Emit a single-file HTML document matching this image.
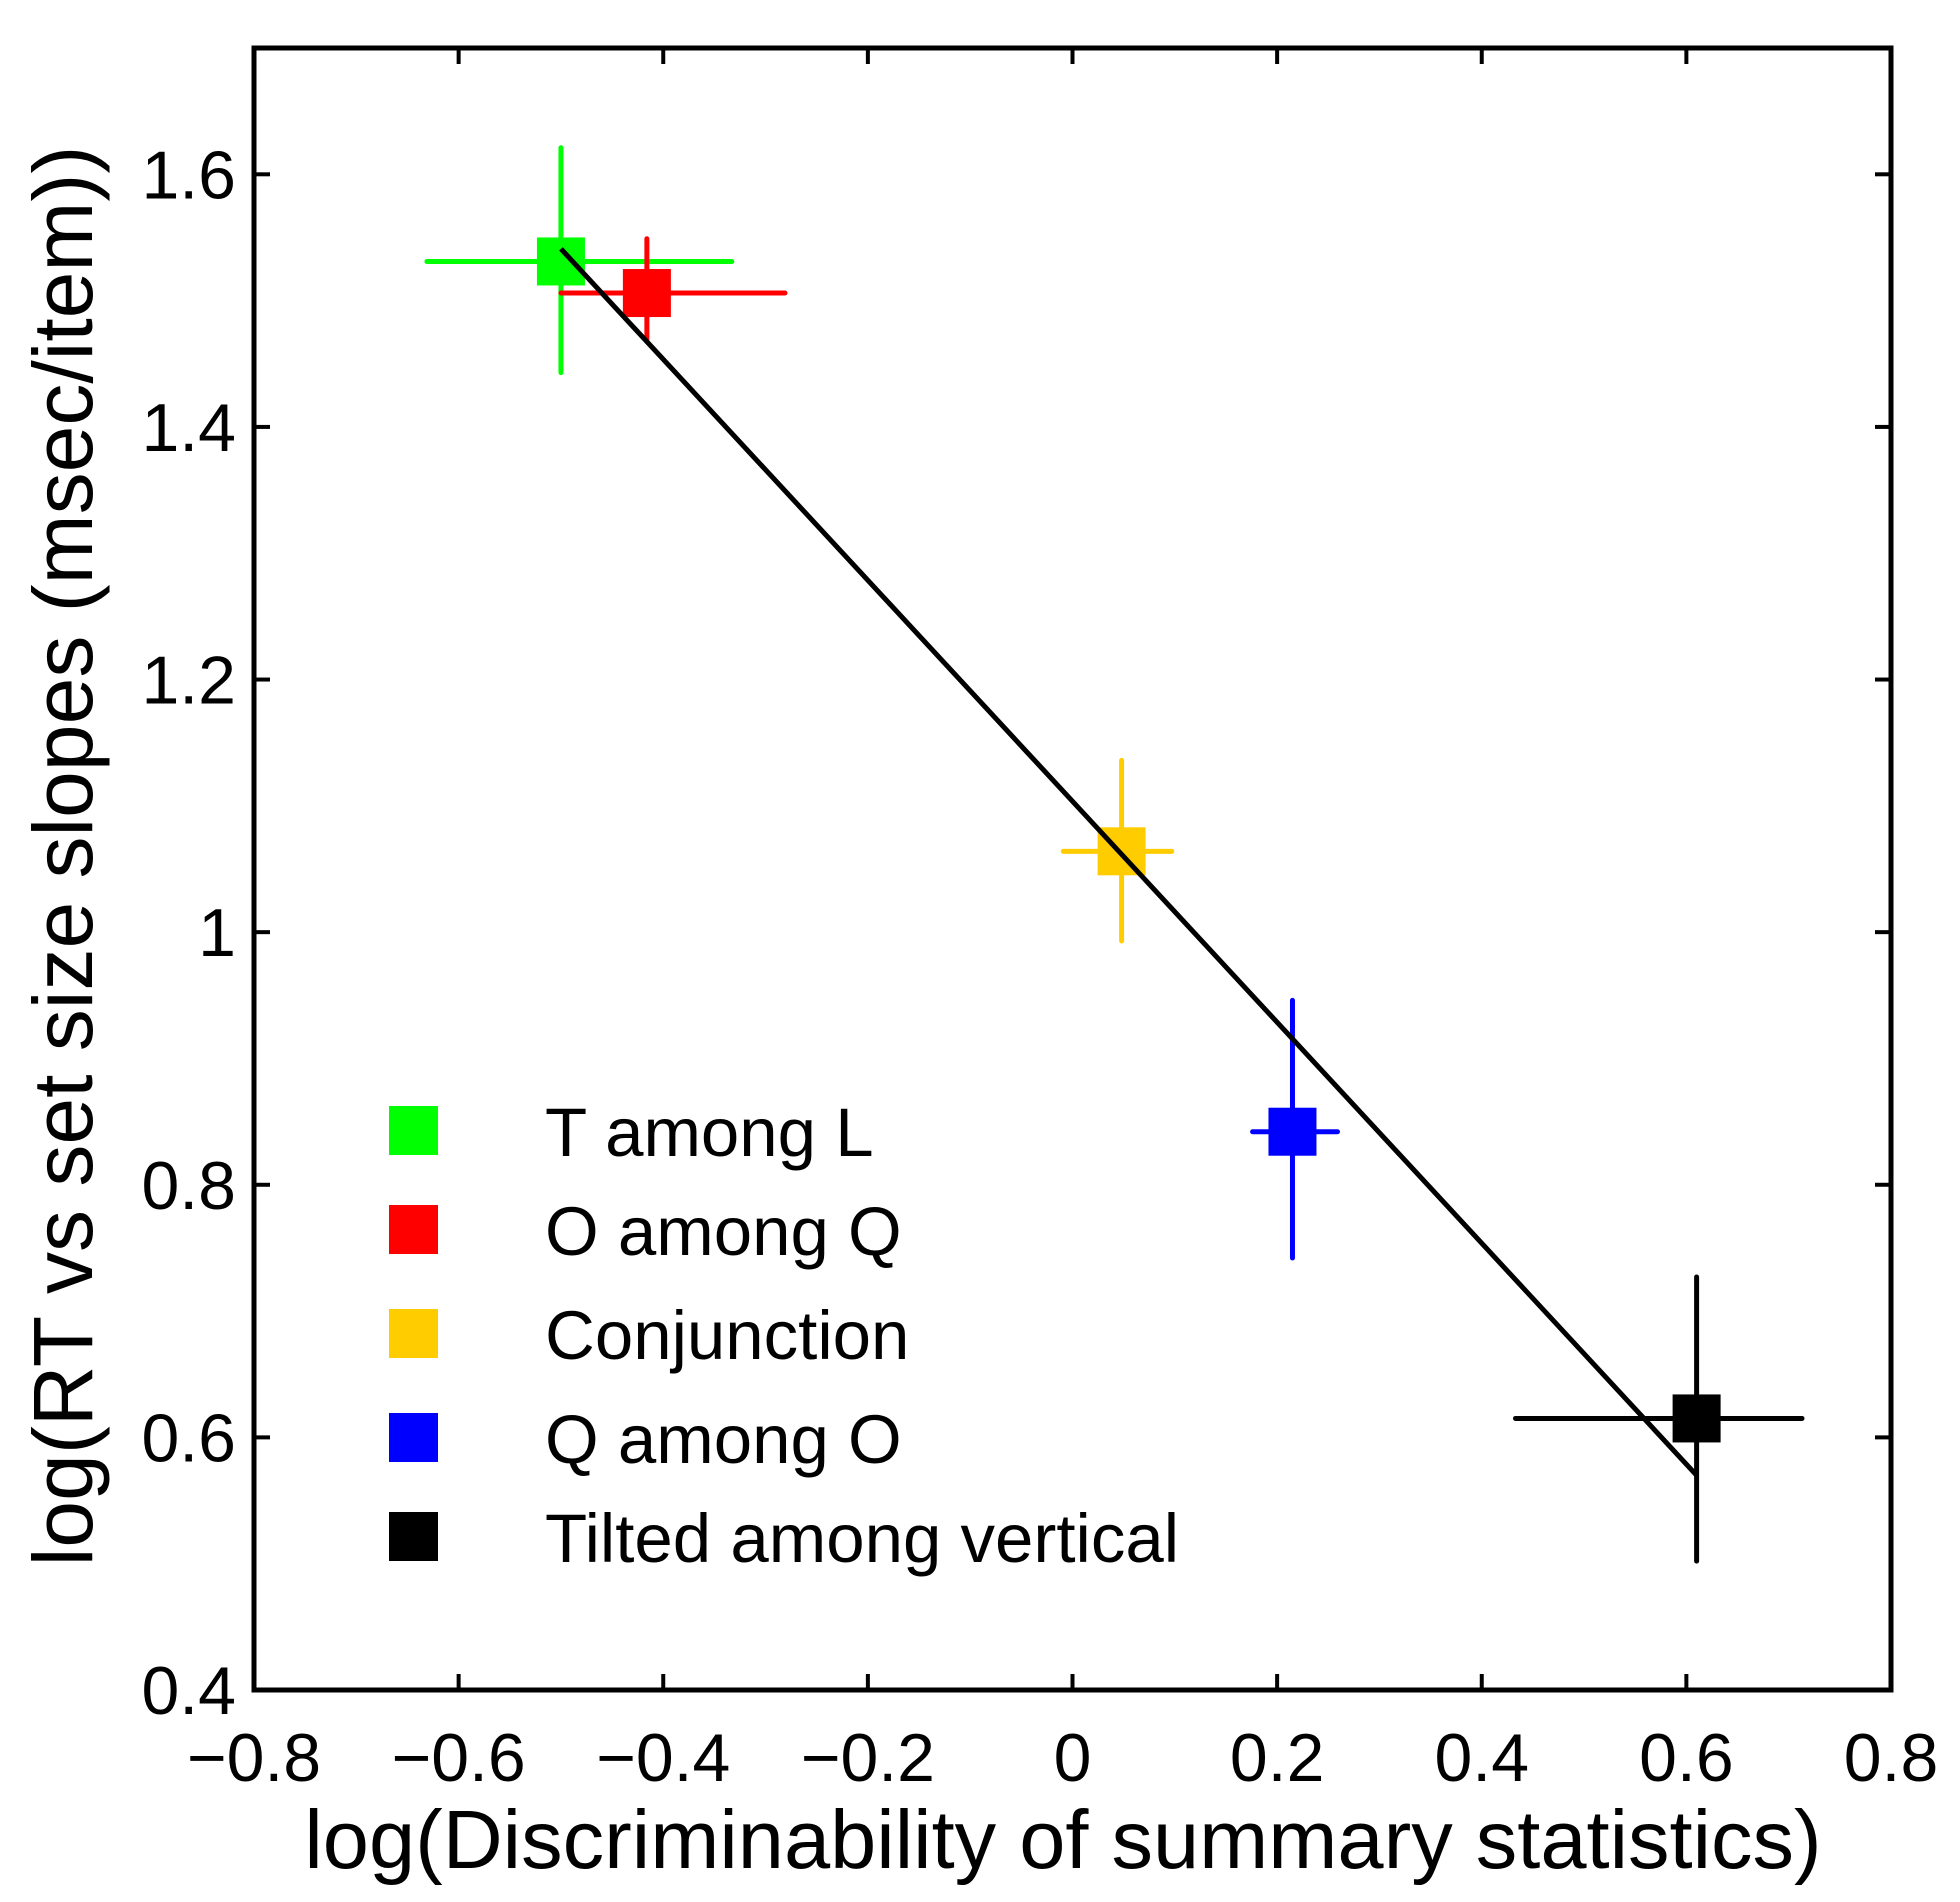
<!DOCTYPE html>
<html><head><meta charset="utf-8"><style>
html,body{margin:0;padding:0;background:#fff;}
svg{display:block;font-family:"Liberation Sans",Arial,sans-serif;}
</style></head><body>
<svg id="chart" width="1960" height="1902" viewBox="0 0 1960 1902"></svg>
<script>
const categories = ["T among L","O among Q","Conjunction","Q among O","Tilted among vertical"];
const colors = ["#00ff00","#ff0000","#ffcc00","#0000ff","#000000"];
const xVals = [-0.50,-0.416,0.048,0.215,0.61];
const yVals = [1.531,1.506,1.064,0.842,0.615];
const xLo = [-0.631,-0.50,-0.009,0.176,0.433];
const xHi = [-0.333,-0.281,0.097,0.259,0.713];
const yLo = [1.443,1.469,0.993,0.742,0.502];
const yHi = [1.621,1.549,1.136,0.946,0.727];
const fitX = [-0.50,0.61];
const fitY = [1.541,0.570];
const xTicks = [-0.8,-0.6,-0.4,-0.2,0,0.2,0.4,0.6,0.8];
const xTickLabels = ["\u22120.8","\u22120.6","\u22120.4","\u22120.2","0","0.2","0.4","0.6","0.8"];
const yTicks = [0.4,0.6,0.8,1,1.2,1.4,1.6];
const yTickLabels = ["0.4","0.6","0.8","1","1.2","1.4","1.6"];

const L=254,R=1891,T=48,B=1690;
const xMin=-0.8,xMax=0.8,yMin=0.4,yMax=1.7;
const sx=v=>L+(v-xMin)/(xMax-xMin)*(R-L);
const sy=v=>B-(v-yMin)/(yMax-yMin)*(B-T);
const NS="http://www.w3.org/2000/svg";
const svg=document.getElementById('chart');
function mk(tag,attrs,parent){const e=document.createElementNS(NS,tag);for(const k in attrs)e.setAttribute(k,attrs[k]);(parent||svg).appendChild(e);return e;}

const box=mk('rect',{x:L,y:T,width:R-L,height:B-T,fill:'none',stroke:'#000','stroke-width':5});



xTicks.forEach((v,i)=>{
  const x=sx(v);
  const t1=mk('line',{x1:x,x2:x,y1:B,y2:B-16,stroke:'#000','stroke-width':4});
  
  
  const t2=mk('line',{x1:x,x2:x,y1:T,y2:T+16,stroke:'#000','stroke-width':4});
  
  
  const lb=mk('text',{x:x,y:1781,'font-size':68,'text-anchor':'middle',fill:'#000'});
  lb.textContent=xTickLabels[i];
  
  
});
yTicks.forEach((v,i)=>{
  const y=sy(v);
  const t1=mk('line',{x1:L,x2:L+16,y1:y,y2:y,stroke:'#000','stroke-width':4});
  
  
  const t2=mk('line',{x1:R,x2:R-16,y1:y,y2:y,stroke:'#000','stroke-width':4});
  
  
  const lb=mk('text',{x:236,y:y+24,'font-size':68,'text-anchor':'end',fill:'#000'});
  lb.textContent=yTickLabels[i];
  
  
});

const xt=mk('text',{x:1063,y:1868,'font-size':83,'text-anchor':'middle',fill:'#000'});
xt.textContent='log(Discriminability of summary statistics)';


const yt=mk('text',{x:0,y:0,'font-size':84,'text-anchor':'middle',fill:'#000',transform:'translate(92,856) rotate(-90)'});
yt.textContent='log(RT vs set size slopes (msec/item))';



categories.forEach((c,i)=>{
  const g=mk('g',{});
  
  
  mk('line',{x1:sx(xLo[i]),x2:sx(xHi[i]),y1:sy(yVals[i]),y2:sy(yVals[i]),stroke:colors[i],'stroke-width':5,'stroke-linecap':'round'},g);
  mk('line',{x1:sx(xVals[i]),x2:sx(xVals[i]),y1:sy(yLo[i]),y2:sy(yHi[i]),stroke:colors[i],'stroke-width':5,'stroke-linecap':'round'},g);
  mk('rect',{x:sx(xVals[i])-24,y:sy(yVals[i])-24,width:48,height:48,fill:colors[i]},g);
});

const fit=mk('line',{x1:sx(fitX[0]),y1:sy(fitY[0]),x2:sx(fitX[1]),y2:sy(fitY[1]),stroke:'#000','stroke-width':5});



const legY=[1130,1229,1333,1437,1536];
categories.forEach((c,i)=>{
  const g=mk('g',{});
  
  
  mk('rect',{x:389,y:legY[i]-24,width:49,height:49,fill:colors[i]},g);
  const t=mk('text',{x:545,y:legY[i]+26,'font-size':69,fill:'#000'},g);
  t.textContent=c;
});
</script>
</body></html>
